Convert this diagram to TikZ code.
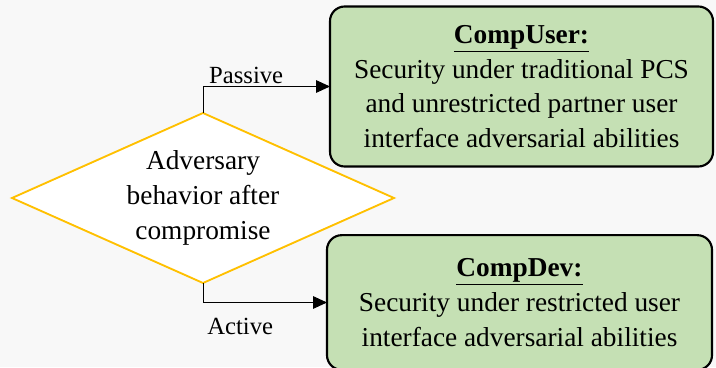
\documentclass[tikz,border=0pt]{standalone}
\usepackage{fontspec}
\setmainfont{Liberation Serif}
\usetikzlibrary{shapes.geometric,arrows.meta}
\definecolor{decisionline}{RGB}{255,192,0}
\definecolor{outcomefill}{RGB}{197,224,180}
\definecolor{pagebg}{RGB}{248,248,248}
\begin{document}
\begin{tikzpicture}[x=0.75pt,y=-0.75pt,
    every node/.style={font=\fontsize{20.5}{26}\selectfont},
    decision/.style={diamond,draw=decisionline,line width=1.4pt,fill=white,
      aspect=2.25,inner sep=0pt,outer sep=0pt,
      minimum width=286.5pt,minimum height=127.5pt,align=center},
    outcome/.style={rectangle,rounded corners=11pt,draw=black,line width=1.6pt,
      fill=outcomefill,align=center,outer sep=0pt},
    branchlabel/.style={font=\fontsize{18.5}{24}\selectfont},
    branch/.style={-{Triangle[length=10.5pt,width=9.5pt]},line width=0.7pt}]
  \clip (0,0) rectangle (716,367);
  \fill[pagebg] (0,0) rectangle (716,367);
  \draw
    (203,198) node[decision] (adv) {Adversary\\behavior after\\compromise}
    (521.5,86.5) node[outcome,minimum width=287.25pt,minimum height=120pt] (user)
      {\textbf{\underline{CompUser:}}\\Security under traditional PCS\\and unrestricted partner user\\interface adversarial abilities}
    (519.5,302.5) node[outcome,minimum width=288.75pt,minimum height=101pt] (dev)
      {\textbf{\underline{CompDev:}}\\Security under restricted user\\interface adversarial abilities};
  \begin{scope}[branch]
    \draw (adv.north) |- node[branchlabel,pos=0.67,above,inner sep=2pt] {Passive} (user.west);
    \draw (adv.south) |- node[branchlabel,pos=0.65,below=8pt] {Active} (dev.west);
  \end{scope}
\end{tikzpicture}
\end{document}
